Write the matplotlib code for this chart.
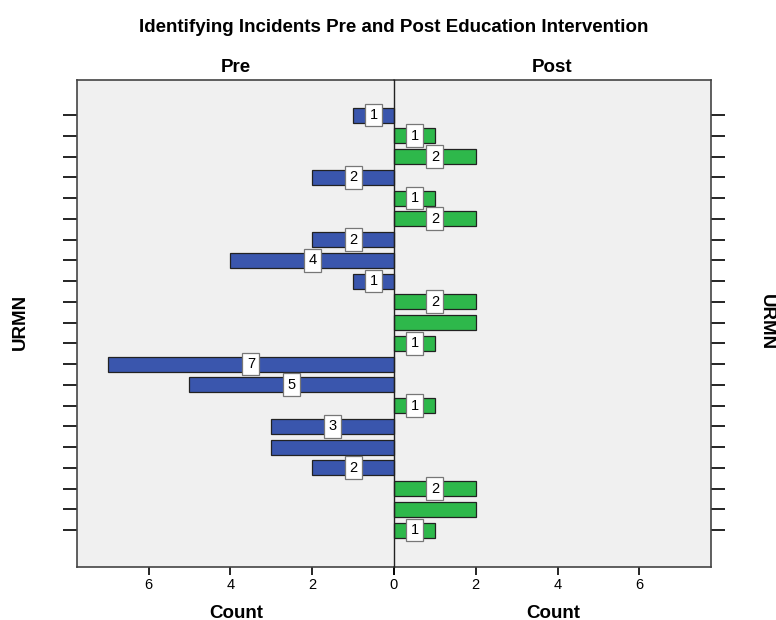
import matplotlib.pyplot as plt
import numpy as np

# rows of URMN, top to bottom
pre_counts = [1, 0, 0, 2, 0, 0, 2, 4, 1, 0, 0, 0, 7, 5, 0, 3, 3, 2, 0, 0, 0]
post_counts = [0, 1, 2, 0, 1, 2, 0, 0, 0, 2, 2, 1, 0, 0, 1, 0, 0, 0, 2, 2, 1]
# SPSS hides some labels where they would collide
pre_labelled = [1, 0, 0, 1, 0, 0, 1, 1, 1, 0, 0, 0, 1, 1, 0, 1, 0, 1, 0, 0, 0]
post_labelled = [0, 1, 1, 0, 1, 1, 0, 0, 0, 1, 0, 1, 0, 0, 1, 0, 0, 0, 1, 0, 1]
x_ticks = [0, 2, 4, 6]

plt.rcParams['font.family'] = ['Liberation Sans', 'DejaVu Sans']

fig = plt.figure(figsize=(7.76, 6.2), dpi=100)
W, H = 776, 620
x0, xm, x1 = 77, 394, 711
ytop, ybot = 80, 567
ax_l = fig.add_axes([x0 / W, 1 - ybot / H, (xm - x0) / W, (ybot - ytop) / H])
ax_r = fig.add_axes([xm / W, 1 - ybot / H, (x1 - xm) / W, (ybot - ytop) / H])

rows = np.arange(len(pre_counts))
bg = '#f0f0f0'

def draw(ax, counts, labelled, color):
    ax.set_facecolor(bg)
    ax.barh(rows, counts, height=0.72, color=color, edgecolor='#222222', linewidth=0.9, zorder=2)
    for r, c, lab in zip(rows, counts, labelled):
        if c and lab:
            ax.text(c / 2, r, str(c), ha='center', va='center', fontsize=10.5, zorder=3,
                    bbox=dict(boxstyle='square,pad=0.3', fc='white', ec='#777777', lw=0.9))
    ax.set_xlim(0, 7.75)
    ax.set_ylim(20 + 1.78, -1.69)
    ax.set_xticks(x_ticks)
    ax.tick_params(axis='x', length=6, width=1.2, pad=2, labelsize=10.5)
    ax.set_yticks(rows)
    ax.set_yticklabels([])
    for s in ax.spines.values():
        s.set_color('#444444')
        s.set_linewidth(1.2)

draw(ax_l, pre_counts, pre_labelled, '#3a56ad')
ax_l.invert_xaxis()
ax_l.set_xticklabels([str(t) for t in x_ticks])
ax_l.tick_params(axis='y', left=True, right=False, length=10, width=1.2, direction='out')
ax_l.spines['right'].set_visible(False)

draw(ax_r, post_counts, post_labelled, '#2eb84b')
ax_r.set_xticklabels([''] + [str(t) for t in x_ticks[1:]])
ax_r.tick_params(axis='y', left=False, right=True, length=10, width=1.2, direction='out')
ax_r.spines['left'].set_color('#222222')
ax_r.spines['left'].set_linewidth(1)
ax_r.spines['left'].set_zorder(4)

ax_l.set_title('Pre', fontsize=13.5, fontweight='bold', pad=6)
ax_r.set_title('Post', fontsize=13.5, fontweight='bold', pad=6)

fig.text(394 / W, 1 - 27 / H, 'Identifying Incidents Pre and Post Education Intervention',
         ha='center', va='center', fontsize=13.5, fontweight='bold')
fig.text(236 / W, 1 - 613 / H, 'Count', ha='center', va='center', fontsize=13.5, fontweight='bold')
fig.text(553 / W, 1 - 613 / H, 'Count', ha='center', va='center', fontsize=13.5, fontweight='bold')
fig.text(20 / W, 1 - 322 / H, 'URMN', rotation=90, ha='center', va='center',
         fontsize=13.5, fontweight='bold')
fig.text(766 / W, 1 - 322 / H, 'URMN', rotation=270, ha='center', va='center',
         fontsize=13.5, fontweight='bold')

plt.savefig('out.png', dpi=100, facecolor='white')
